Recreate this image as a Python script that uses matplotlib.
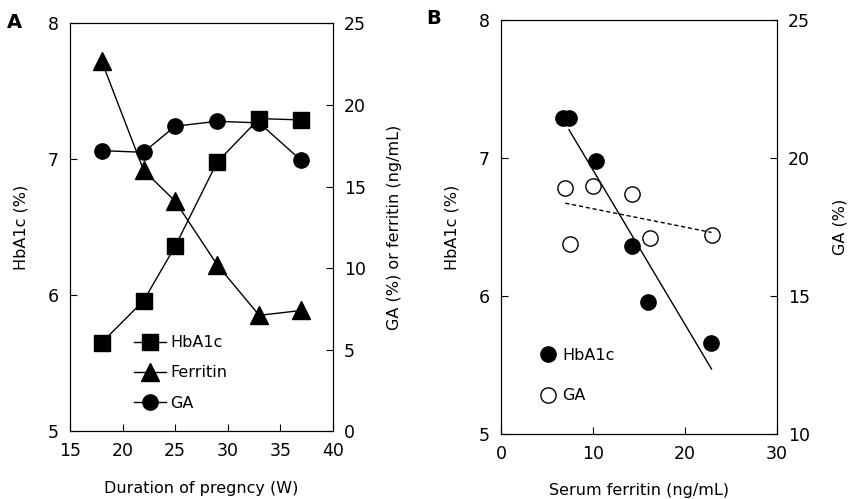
import numpy as np
import matplotlib.pyplot as plt

# panel A: values by week of pregnancy
weeks = [18, 22, 25, 29, 33, 37]
hba1c_a = [5.65, 5.96, 6.36, 6.98, 7.30, 7.29]
ferritin_a = [22.7, 16.0, 14.1, 10.2, 7.1, 7.4]
ga_a = [17.2, 17.1, 18.7, 19.0, 18.9, 16.6]

# panel B: serum ferritin vs HbA1c / GA
ferr_hb = [6.7, 7.4, 10.3, 14.2, 16.0, 22.8]
hba1c_b = [7.29, 7.29, 6.98, 6.36, 5.96, 5.66]
ferr_ga = [7.0, 10.0, 14.2, 7.5, 16.2, 22.9]
ga_b = [18.9, 19.0, 18.7, 16.9, 17.1, 17.2]

plt.rcParams['font.family'] = 'DejaVu Sans'
fs = 11.5

fig = plt.figure(figsize=(8.49, 4.99), dpi=100)

# ---- panel A ----
ax = fig.add_axes([0.0825, 0.136, 0.3095, 0.817])
ax2 = ax.twinx()
l1, = ax.plot(weeks, hba1c_a, 'k-', marker='s', ms=12, lw=1, label='HbA1c')
l2, = ax2.plot(weeks, ferritin_a, 'k-', marker='^', ms=13, lw=1, label='Ferritin')
l3, = ax2.plot(weeks, ga_a, 'k-', marker='o', ms=11, lw=1, label='GA')
ax.set_xlim(15, 40)
ax.set_ylim(5, 8)
ax2.set_ylim(0, 25)
ax.set_xticks([15, 20, 25, 30, 35, 40])
ax.set_yticks([5, 6, 7, 8])
ax2.set_yticks([0, 5, 10, 15, 20, 25])
ax.set_xlabel('Duration of pregncy (W)', fontsize=fs, labelpad=15)
ax.set_ylabel('HbA1c (%)', fontsize=fs, labelpad=14)
ax2.set_ylabel('GA (%) or ferritin (ng/mL)', fontsize=fs, labelpad=15)
ax.legend(handles=[l1, l2, l3], frameon=False, fontsize=fs, loc='lower left',
          bbox_to_anchor=(0.19, 0.015), handlelength=2.0, labelspacing=0.95,
          handletextpad=0.25)
ax.text(-0.24, 0.99, 'A', transform=ax.transAxes, fontsize=14, fontweight='bold')

# ---- panel B ----
bx = fig.add_axes([0.590, 0.130, 0.325, 0.830])
bx2 = bx.twinx()
m1, = bx.plot(ferr_hb, hba1c_b, 'o', color='k', ms=11, label='HbA1c')
m2, = bx2.plot(ferr_ga, ga_b, 'o', mfc='white', mec='k', ms=11, label='GA')

# regression lines
p = np.polyfit(ferr_hb, hba1c_b, 1)
xs = np.array([ferr_hb[1], max(ferr_hb)])
bx.plot(xs + [0, 0.1], np.polyval(p, xs + [0, 0.1]), 'k-', lw=1)
q = np.polyfit(ferr_ga, ga_b, 1)
xg = np.array([min(ferr_ga), max(ferr_ga)])
bx2.plot(xg, np.polyval(q, xg), 'k--', lw=1, dashes=(3, 2))

bx.set_xlim(0, 30)
bx.set_ylim(5, 8)
bx2.set_ylim(10, 25)
bx.set_xticks([0, 10, 20, 30])
bx.set_yticks([5, 6, 7, 8])
bx2.set_yticks([10, 15, 20, 25])
bx.set_xlabel('Serum ferritin (ng/mL)', fontsize=fs, labelpad=14)
bx.set_ylabel('HbA1c (%)', fontsize=fs, labelpad=14)
bx2.set_ylabel('GA (%)', fontsize=fs, labelpad=16)
bx.legend(handles=[m1, m2], frameon=False, fontsize=fs, loc='lower left',
          bbox_to_anchor=(0.09, 0.04), handlelength=1.0, labelspacing=1.6,
          handletextpad=0.4)
bx.text(-0.27, 0.99, 'B', transform=bx.transAxes, fontsize=14, fontweight='bold')

for a in (ax, ax2, bx, bx2):
    a.tick_params(direction='in', length=5, labelsize=fs + 1, pad=8, width=0.8)
    for s in a.spines.values():
        s.set_linewidth(0.8)

fig.savefig('out.png', dpi=100)
